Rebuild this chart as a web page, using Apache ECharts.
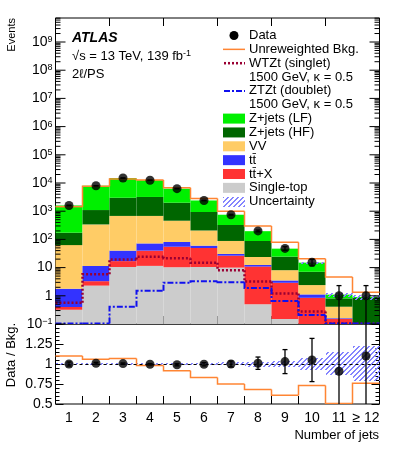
<!DOCTYPE html>
<html><head><meta charset="utf-8">
<script src="https://cdn.jsdelivr.net/npm/echarts@6/dist/echarts.min.js"></script>
<style>html,body{margin:0;padding:0;background:#fff}#c{width:399px;height:451px}</style>
</head><body><div id="c"></div>
<script>
// ---------------- data ----------------
const categories = ['1','2','3','4','5','6','7','8','9','10','11','\u2265 12'];
const singleTop = [0.32, 2.3, 10.5, 11.5, 10.3, 10.5, 10, 0.5, 0.15, 0.02, 0, 0];
const ttX       = [0.08, 1.0, 6.5, 28.5, 44.7, 39, 16.5, 10.4, 2.75, 0.83, 0.15, 0.02];
const ttbar     = [1.38, 8.2, 23, 32, 26, 10.5, 4, 1.5, 0.6, 0.27, 0.01, 0.005];
const vv        = [61, 328, 640, 608, 379, 147, 57.6, 11.4, 4.6, 1.28, 0.25, 0.015];
const zjetsHF   = [110, 760, 2320, 2520, 1540, 728, 236, 64, 16.4, 4.7, 0.4, 0.79];
const zjetsLF   = [1427, 6900, 12000, 9300, 4300, 1465, 426, 108, 22.5, 7.9, 0.29, 0.08];
const dataVals  = [1600, 8000, 15000, 12500, 6300, 2400, 750, 200, 48, 15.5, 1, 1];
const dataErrLo = [40, 90, 120, 110, 80, 50, 27, 14, 7, 4, 1, 1];
const dataErrHi = [40, 90, 120, 110, 80, 50, 27, 14, 7, 4, 1.3, 1.3];
const unreweighted = [1450, 7600, 14000, 12700, 6800, 2850, 1000, 300, 80, 20.5, 4.6, 1.35];
const wtzt = [0.57, 5.8, 19.5, 24.5, 21.5, 15, 8.1, 3.2, 1.2, 0.28, 0.105, 0.105];
const ztzt = [0.105, 0.105, 0.41, 1.5, 2.9, 3.3, 3.0, 1.9, 0.65, 0.21, 0.105, 0.105];
const uncRel = [0.01, 0.01, 0.01, 0.01, 0.01, 0.015, 0.02, 0.03, 0.04, 0.075, 0.146, 0.22];
const ratioVals = [1.00, 1.01, 1.005, 0.997, 0.99, 0.997, 1.0, 1.01, 1.03, 1.05, 0.91, 1.10];
const ratioErr  = [0.025, 0.011, 0.008, 0.009, 0.013, 0.02, 0.037, 0.077, 0.15, 0.27, 0.91, 1.1];
const ratioUnrew = [1.10, 1.058, 1.07, 0.98, 0.916, 0.83, 0.75, 0.68, 0.61, 0.73, 0.505, 0.76];
const mainTickExps = [-1, 0, 1, 2, 3, 4, 5, 6, 7, 8, 9];
const legendLabels = ['Data','Unreweighted Bkg.','WTZt (singlet)','1500 GeV, \u03ba = 0.5','ZTZt (doublet)','1500 GeV, \u03ba = 0.5','Z+jets (LF)','Z+jets (HF)','VV','tt\u0304','tt\u0304+X','Single-top','Uncertainty'];

// ---------------- style ----------------
const FONT = "'Liberation Sans', Arial, Helvetica, sans-serif";
const C_LF = '#00f000', C_HF = '#006600', C_VV = '#ffcc66', C_TT = '#3333ff', C_TTX = '#ff3333', C_ST = '#cccccc';
const C_UNREW = '#ff8533', C_WTZT = '#990033', C_ZTZT = '#1010ee', C_HATCH = '#8585ff';
const stackColors = [C_ST, C_TTX, C_TT, C_VV, C_HF, C_LF];
const stackComps = [singleTop, ttX, ttbar, vv, zjetsHF, zjetsLF];
const YMIN = 0.1, YMAX = 7.1e9;

// crisp pixel hatch pattern "/" (2px thick, period 5)
function hatchCanvas(){
  const n = 5;
  const c = document.createElement('canvas'); c.width = n; c.height = n;
  const g = c.getContext('2d'); g.fillStyle = C_HATCH;
  for (let k = 0; k < n; k++){ g.fillRect(k, n - 1 - k, 1, 1); g.fillRect(k, (n - k) % n, 1, 1); }
  return c;
}
const HATCH = {image: hatchCanvas(), repeat: 'repeat'};
function hatchRect(x, y, w, h){
  return {type:'rect', shape:{x:Math.round(x), y:Math.round(y), width:Math.round(w), height:Math.max(Math.round(h),1)}, style:{fill:HATCH}};
}

function binGeom(params, api, i, v){
  const cs = params.coordSys; const w = cs.width / categories.length;
  const xc = api.coord([i, v])[0];
  return {xl: xc - w/2, xr: xc + w/2, xc: xc, w: w};
}
function stepSeries(vals, xi, yi, style, z){
  return {type:'custom', xAxisIndex:xi, yAxisIndex:yi, clip:true, z:z, silent:true,
    data: vals.map((v,i)=>[i,v]),
    renderItem(params, api){
      const i = api.value(0), v = api.value(1);
      const g = binGeom(params, api, i, v);
      const y = api.coord([i, v])[1];
      const pts = [];
      if (i > 0) pts.push([g.xl, api.coord([i-1, vals[i-1]])[1]]);
      pts.push([g.xl, y], [g.xr, y]);
      return {type:'polyline', shape:{points:pts}, style:Object.assign({fill:null}, style)};
    }};
}
function errSeries(vals, lo, hi, xi, yi, cap, floorV){
  return {type:'custom', xAxisIndex:xi, yAxisIndex:yi, clip:true, z:9, silent:true,
    data: vals.map((v,i)=>[i,v]),
    renderItem(params, api){
      const i = api.value(0), v = api.value(1);
      const p = api.coord([i, v]);
      const t = api.coord([i, v + hi[i]])[1];
      const b = api.coord([i, Math.max(v - lo[i], floorV)])[1];
      const st = {stroke:'#000', lineWidth:1.3};
      return {type:'group', children:[
        {type:'line', shape:{x1:p[0], y1:b, x2:p[0], y2:t}, style:st},
        {type:'line', shape:{x1:p[0]-cap, y1:t, x2:p[0]+cap, y2:t}, style:st},
        {type:'line', shape:{x1:p[0]-cap, y1:b, x2:p[0]+cap, y2:b}, style:st}
      ]};
    }};
}

const stackSeries = {type:'custom', xAxisIndex:0, yAxisIndex:0, clip:true, z:2, silent:true,
  data: categories.map((c,i)=>[i, dataVals[i]]),
  renderItem(params, api){
    const i = api.value(0);
    const g = binGeom(params, api, i, 1);
    let cum = 0; const children = [];
    for (let k = 0; k < stackComps.length; k++){
      const lo = cum; cum += stackComps[k][i];
      if (stackComps[k][i] <= 0) continue;
      const y0 = api.coord([i, Math.max(lo, 1e-4)])[1];
      const y1 = api.coord([i, cum])[1];
      children.push({type:'rect', shape:{x:g.xl, y:y1, width:g.w, height:y0-y1}, style:{fill:stackColors[k]}});
    }
    const up = api.coord([i, cum*(1+uncRel[i])])[1], dn = api.coord([i, cum*(1-uncRel[i])])[1];
    if (dn - up >= 1) children.push(hatchRect(g.xl, up, g.w, dn - up));
    return {type:'group', children};
  }};

const ratioBand = {type:'custom', xAxisIndex:2, yAxisIndex:1, clip:true, z:2, silent:true,
  data: categories.map((c,i)=>[i, 1]),
  renderItem(params, api){
    const i = api.value(0);
    const g = binGeom(params, api, i, 1);
    const up = api.coord([i, 1+uncRel[i]])[1], dn = api.coord([i, 1-uncRel[i]])[1];
    return hatchRect(g.xl, up, g.w, dn - up);
  },
  markLine:{silent:true, symbol:'none', animation:false, label:{show:false},
    lineStyle:{color:'#000', type:[3,3], width:1}, data:[{yAxis:1}]}
};

// log-axis ticks and labels, placed through the axis scale
const minorVals = [];
for (let e = -1; e <= 9; e++) for (let m = 2; m <= 9; m++){ const v = m*Math.pow(10,e); if (v < YMAX) minorVals.push(v); }
const minorTickSeries = {type:'custom', xAxisIndex:0, yAxisIndex:0, clip:false, z:20, silent:true,
  data: minorVals.map(v=>[0,v]),
  renderItem(params, api){
    const y = api.coord([0, api.value(1)])[1]; const cs = params.coordSys;
    const st = {stroke:'#000', lineWidth:1};
    return {type:'group', children:[
      {type:'line', shape:{x1:cs.x, y1:y, x2:cs.x+5, y2:y}, style:st},
      {type:'line', shape:{x1:cs.x+cs.width-5, y1:y, x2:cs.x+cs.width, y2:y}, style:st}
    ]};
  }};
function expLabel(e){
  if (e === 0) return '1';
  if (e === 1) return '10';
  return '10{s|' + (e < 0 ? '\u2212' : '') + Math.abs(e) + '}';
}
const majorTickSeries = {type:'custom', xAxisIndex:0, yAxisIndex:0, clip:false, z:20, silent:true,
  data: mainTickExps.map(e=>[0, Math.pow(10, e), e]),
  renderItem(params, api){
    const y = api.coord([0, api.value(1)])[1]; const cs = params.coordSys;
    const e = api.value(2);
    const st = {stroke:'#000', lineWidth:1};
    return {type:'group', children:[
      {type:'line', shape:{x1:cs.x, y1:y, x2:cs.x+10, y2:y}, style:st},
      {type:'line', shape:{x1:cs.x+cs.width-10, y1:y, x2:cs.x+cs.width, y2:y}, style:st},
      {type:'text', x:cs.x-3, y:y, style:{text:expLabel(e), fill:'#000', font:'14px ' + FONT, textAlign:'right', textVerticalAlign:'middle',
        rich:{s:{fontSize:9, fontFamily:FONT, fill:'#000', verticalAlign:'top'}}}}
    ]};
  }};

const axisLineOff = {show:false};
const xBase = {type:'category', data:categories, boundaryGap:true, axisLine:axisLineOff,
  splitLine:{show:false}, axisTick:{show:true, inside:true, length:8, lineStyle:{color:'#000'}}};

// ---------------- legend graphic ----------------
const LX = 223, LW = 22, LTX = 249, LY0 = 35.5, LDY = 13.85;
const legendGfx = [];
legendLabels.forEach((t,k)=>{
  legendGfx.push({type:'text', x:LTX, y:LY0 + k*LDY, style:{text:t, fontFamily:FONT, fontSize:13, fill:'#000', textVerticalAlign:'middle'}, z:100});
});
const ly = k => LY0 + k*LDY;
legendGfx.push({type:'circle', shape:{cx:LX+LW/2, cy:ly(0), r:4.5}, style:{fill:'#000'}, z:100});
legendGfx.push({type:'line', shape:{x1:LX, y1:ly(1), x2:LX+LW, y2:ly(1)}, style:{stroke:C_UNREW, lineWidth:1.5}, z:100});
legendGfx.push({type:'line', shape:{x1:LX+1, y1:ly(2), x2:LX+LW, y2:ly(2)}, style:{stroke:C_WTZT, lineWidth:2.5, lineDash:[2,2]}, z:100});
legendGfx.push({type:'line', shape:{x1:LX+1, y1:ly(4), x2:LX+LW, y2:ly(4)}, style:{stroke:C_ZTZT, lineWidth:2, lineDash:[6,2,2,2]}, z:100});
[C_LF, C_HF, C_VV, C_TT, C_TTX, C_ST].forEach((c,j)=>{
  legendGfx.push({type:'rect', shape:{x:LX, y:ly(6+j)-5, width:LW, height:10}, style:{fill:c}, z:100});
});
const hr = hatchRect(LX, ly(12)-5, LW, 10); hr.z = 100; legendGfx.push(hr);

const textGfx = [
  {type:'text', x:72, y:38.5, style:{text:'ATLAS', font:'italic bold 14px ' + FONT, fill:'#000', textVerticalAlign:'middle'}, z:100},
  {type:'text', x:72, y:56, style:{text:'\u221As = 13 TeV, 139 fb{s|-1}', font:'13px ' + FONT, fill:'#000', textVerticalAlign:'middle',
    rich:{s:{fontSize:9, fontFamily:FONT, verticalAlign:'top'}}}, z:100},
  {type:'text', x:72, y:74, style:{text:'2\u2113/PS', font:'13px ' + FONT, fill:'#000', textVerticalAlign:'middle'}, z:100},
  {type:'text', x:12, y:18, rotation:Math.PI/2, style:{text:'Events', font:'11px ' + FONT, fill:'#000', textAlign:'right', textVerticalAlign:'middle'}, z:100},
  {type:'text', x:11, y:355, rotation:Math.PI/2, style:{text:'Data / Bkg.', font:'13px ' + FONT, fill:'#000', textAlign:'center', textVerticalAlign:'middle'}, z:100},
  {type:'text', x:379, y:435, style:{text:'Number of jets', font:'13px ' + FONT, fill:'#000', textAlign:'right', textVerticalAlign:'middle'}, z:100}
];

const option = {
  animation:false,
  textStyle:{fontFamily:FONT},
  grid:[
    {left:55.5, top:18, width:324, height:306, show:true, borderColor:'#000', borderWidth:1, backgroundColor:'transparent', containLabel:false},
    {left:55.5, top:324, width:324, height:80, show:true, borderColor:'#000', borderWidth:1, backgroundColor:'transparent', containLabel:false}
  ],
  xAxis:[
    Object.assign({}, xBase, {gridIndex:0, position:'bottom', axisLabel:{show:false}}),
    Object.assign({}, xBase, {gridIndex:0, position:'top', axisLabel:{show:false}}),
    Object.assign({}, xBase, {gridIndex:1, position:'bottom', axisLabel:{show:true, interval:0, color:'#000', fontSize:14, fontFamily:FONT, margin:7}})
  ],
  yAxis:[
    {type:'log', logBase:10, gridIndex:0, min:YMIN, max:YMAX, position:'left', axisLine:axisLineOff, splitLine:{show:false},
      axisTick:{show:false}, axisLabel:{show:false}},
    {type:'value', gridIndex:1, min:0.5, max:1.5, interval:0.25, position:'left', axisLine:axisLineOff, splitLine:{show:false},
      axisTick:{show:true, inside:true, length:8, lineStyle:{color:'#000'}},
      minorTick:{show:true, splitNumber:5, length:4, lineStyle:{color:'#000'}}, minorSplitLine:{show:false},
      axisLabel:{show:true, color:'#000', fontSize:14, fontFamily:FONT, margin:3, formatter:v=> (v>1.4 ? '' : String(v))}},
    {type:'value', gridIndex:1, min:0.5, max:1.5, interval:0.25, position:'right', axisLine:axisLineOff, splitLine:{show:false},
      axisTick:{show:true, inside:true, length:8, lineStyle:{color:'#000'}},
      minorTick:{show:true, splitNumber:5, length:4, lineStyle:{color:'#000'}}, minorSplitLine:{show:false},
      axisLabel:{show:false}}
  ],
  series:[
    stackSeries,
    stepSeries(unreweighted, 0, 0, {stroke:C_UNREW, lineWidth:1.5}, 4),
    stepSeries(wtzt, 0, 0, {stroke:C_WTZT, lineWidth:2.5, lineDash:[2,2]}, 5),
    stepSeries(ztzt, 0, 0, {stroke:C_ZTZT, lineWidth:2, lineDash:[6,2,2,2]}, 5),
    errSeries(dataVals, dataErrLo, dataErrHi, 0, 0, 2.5, 1e-4),
    {type:'scatter', xAxisIndex:0, yAxisIndex:0, z:10, silent:true, symbol:'circle', symbolSize:9, itemStyle:{color:'#000'},
      data: dataVals.map((v,i)=>[i,v])},
    minorTickSeries,
    majorTickSeries,
    ratioBand,
    stepSeries(ratioUnrew, 2, 1, {stroke:C_UNREW, lineWidth:1.5}, 4),
    errSeries(ratioVals, ratioErr, ratioErr, 2, 1, 2.5, -10),
    {type:'scatter', xAxisIndex:2, yAxisIndex:1, z:10, silent:true, symbol:'circle', symbolSize:9, itemStyle:{color:'#000'},
      data: ratioVals.map((v,i)=>[i,v])}
  ],
  graphic: legendGfx.concat(textGfx)
};
const chart = echarts.init(document.getElementById('c'), null, {renderer:'canvas'});
chart.setOption(option);
</script></body></html>
